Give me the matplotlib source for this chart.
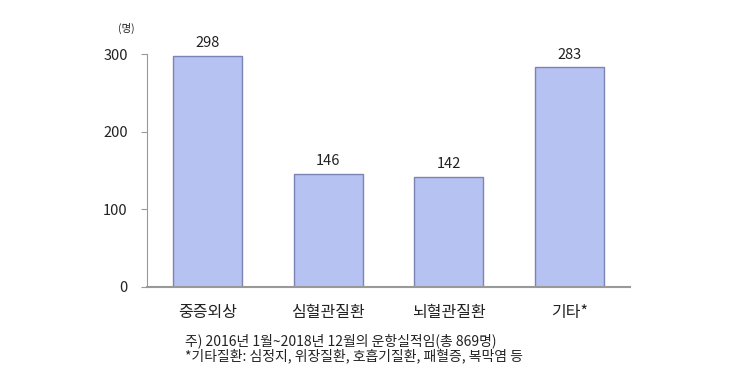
import matplotlib
matplotlib.use("Agg")
import matplotlib.pyplot as plt

plt.rcParams['font.family'] = ['Noto Sans CJK KR', 'DejaVu Sans']

categories = ['중증외상', '심혈관질환', '뇌혈관질환', '기타*']
counts = [298, 146, 142, 283]
y_ticks = [0, 100, 200, 300]
unit_label = '(명)'
notes = ['주) 2016년 1월~2018년 12월의 운항실적임(총 869명)',
         '*기타질환: 심정지, 위장질환, 호흡기질환, 패혈증, 복막염 등']

fig = plt.figure(figsize=(7.39, 3.73), dpi=100)
ax = fig.add_axes([0.199, 0.2306, 0.6535, 0.6246])

x = range(len(categories))
bars = ax.bar(x, counts, width=0.57, color='#b6c2f2', edgecolor='#7c84b4', linewidth=1.0)

for b, v in zip(bars, counts):
    ax.annotate(str(v), (b.get_x() + b.get_width() / 2, v), xytext=(0, 4),
                textcoords='offset points', ha='center', va='bottom',
                fontsize=10.5, color='#222222')

ax.set_xlim(-0.5, len(categories) - 0.5)
ax.set_ylim(0, 300)
ax.set_yticks(y_ticks)
ax.set_yticklabels([str(t) for t in y_ticks], fontsize=10.5, color='#222222')
ax.set_xticks(list(x))
ax.set_xticklabels(categories, fontsize=11.5, color='#222222')
ax.tick_params(axis='x', length=0, pad=12)
ax.tick_params(axis='y', length=4, color='#999999', pad=10)

for s in ['top', 'right']:
    ax.spines[s].set_visible(False)
ax.spines['left'].set_color('#999999')
ax.spines['bottom'].set_color('#999999')
ax.spines['bottom'].set_linewidth(1.5)

fig.text(118 / 739, 1 - 28 / 373, unit_label, fontsize=7.5, color='#222222', va='center')
fig.text(185 / 739, 1 - 341 / 373, notes[0], fontsize=10, color='#222222', va='center')
fig.text(185 / 739, 1 - 356 / 373, notes[1], fontsize=10, color='#222222', va='center')

fig.savefig('out.png', dpi=100)
